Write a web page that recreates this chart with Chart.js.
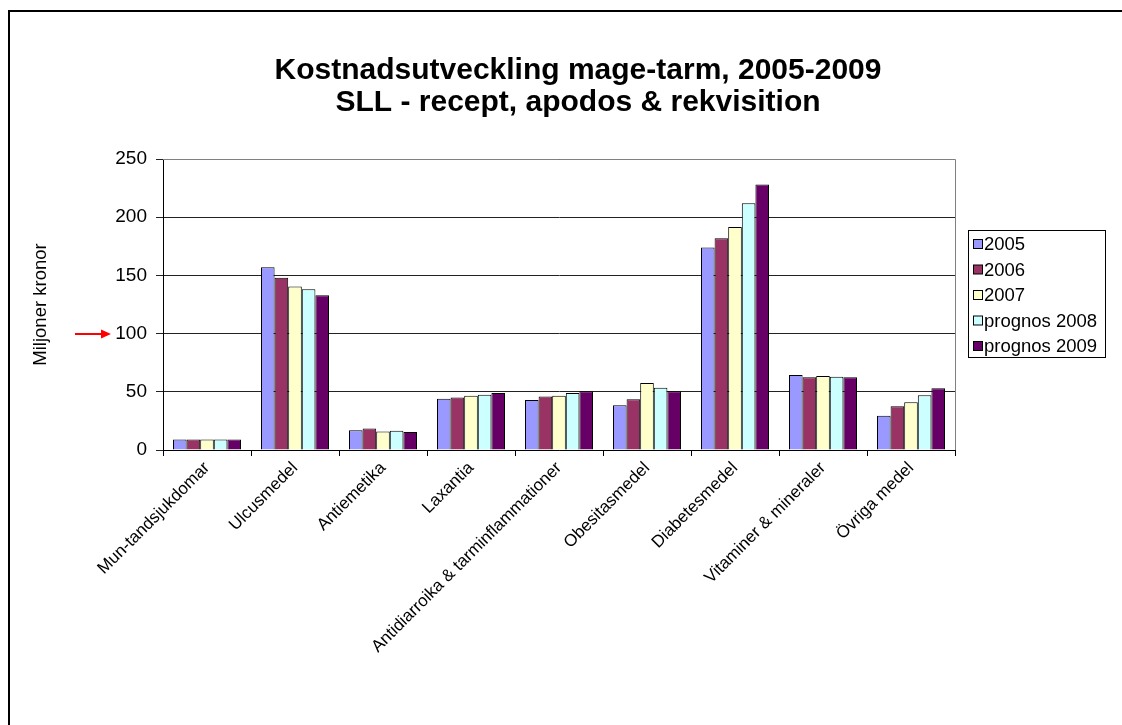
<!DOCTYPE html>
<html>
<head>
<meta charset="utf-8">
<script src="https://cdn.jsdelivr.net/npm/chart.js@4"></script>
<style>
  html, body { margin: 0; padding: 0; background: #fff; }
  #wrap { position: relative; width: 1122px; height: 725px; }
  #frame { position: absolute; left: 8px; top: 10px; right: -10px; bottom: -10px;
           border-left: 2px solid #000; border-top: 2px solid #000; }
  canvas { position: absolute; left: 0; top: 0; }
</style>
</head>
<body>
<div id="wrap">
  <div id="frame"></div>
  <canvas id="chart" width="1122" height="725"></canvas>
</div>
<script>
const titleLines = ["Kostnadsutveckling mage-tarm, 2005-2009", "SLL - recept, apodos & rekvisition"];
const categories = [
  "Mun-tandsjukdomar", "Ulcusmedel", "Antiemetika", "Laxantia",
  "Antidiarroika & tarminflammationer", "Obesitasmedel", "Diabetesmedel",
  "Vitaminer & mineraler", "Övriga medel"
];
const seriesNames = ["2005", "2006", "2007", "prognos 2008", "prognos 2009"];
const seriesColors = ["#9999FF", "#993366", "#FFFFCC", "#CCFFFF", "#660066"];

const v2005 = [9, 157, 17, 44, 43, 38.5, 174, 64.5, 29.5];
const v2006 = [9, 148, 18.5, 45, 46, 43.5, 182, 62.5, 37.5];
const v2007 = [9, 140.5, 16, 46.5, 46.5, 57.5, 191.5, 63.5, 41];
const v2008 = [9, 138, 16.5, 47.5, 49, 53.5, 212, 63, 47];
const v2009 = [9, 133, 15.5, 49, 50.5, 50.5, 228, 62.5, 53];
const yTicks = [0, 50, 100, 150, 200, 250];

const FONT = "Arial, 'Liberation Sans', sans-serif";
Chart.defaults.font.family = FONT;
Chart.defaults.color = "#000";

const allSeries = [v2005, v2006, v2007, v2008, v2009];

// title, gray plot border, legend box and red arrow
const extras = {
  id: "extras",
  afterDraw(chart) {
    const ctx = chart.ctx;
    const a = chart.chartArea;
    ctx.save();

    ctx.fillStyle = "#000";
    ctx.font = "bold 30px " + FONT;
    ctx.textAlign = "center";
    ctx.textBaseline = "middle";
    titleLines.forEach((t, i) => ctx.fillText(t, 578, 71 + i * 32));
    ctx.textAlign = "left";

    ctx.strokeStyle = "#808080";
    ctx.lineWidth = 1;
    ctx.beginPath();
    ctx.moveTo(a.left, a.top + 0.5);
    ctx.lineTo(a.right + 0.5, a.top + 0.5);
    ctx.lineTo(a.right + 0.5, a.bottom);
    ctx.stroke();

    // arrow pointing at 100
    const y = Math.round(chart.scales.y.getPixelForValue(100));
    const x0 = a.left - 88, x1 = a.left - 52;
    ctx.strokeStyle = "#FF0000";
    ctx.fillStyle = "#FF0000";
    ctx.lineWidth = 2;
    ctx.beginPath();
    ctx.moveTo(x0, y);
    ctx.lineTo(x1 - 8, y);
    ctx.stroke();
    ctx.beginPath();
    ctx.moveTo(x1, y);
    ctx.lineTo(x1 - 10, y - 4.5);
    ctx.lineTo(x1 - 10, y + 4.5);
    ctx.closePath();
    ctx.fill();

    // legend
    const lx = 968.5, ly = 230.5, lw = 137, lh = 127;
    ctx.fillStyle = "#fff";
    ctx.fillRect(lx, ly, lw, lh);
    ctx.strokeStyle = "#000";
    ctx.lineWidth = 1;
    ctx.strokeRect(lx, ly, lw, lh);
    ctx.font = "18.5px " + FONT;
    ctx.textBaseline = "middle";
    chart.data.datasets.forEach((ds, i) => {
      const cy = 244 + i * 25.5;
      ctx.fillStyle = ds.backgroundColor;
      ctx.fillRect(973.5, cy - 4.5, 9, 9);
      ctx.strokeStyle = "#000";
      ctx.strokeRect(973.5, cy - 4.5, 9, 9);
      ctx.fillStyle = "#000";
      ctx.fillText(ds.label, 984, cy + 1);
    });
    ctx.restore();
  }
};

new Chart(document.getElementById("chart"), {
  type: "bar",
  data: {
    labels: categories,
    datasets: seriesNames.map((name, i) => ({
      label: name,
      data: allSeries[i],
      backgroundColor: seriesColors[i],
      borderColor: "#000",
      borderWidth: 1,
      categoryPercentage: 0.773,
      barPercentage: 1
    }))
  },
  options: {
    responsive: false,
    animation: false,
    layout: { padding: { left: 0, right: 167, top: 159, bottom: 0 } },
    plugins: {
      legend: { display: false },
      tooltip: { enabled: false },
      title: { display: false }
    },
    scales: {
      x: {
        grid: { display: true, drawOnChartArea: false, offset: true, color: "#000", tickLength: 6 },
        border: { color: "#000", width: 1 },
        ticks: {
          font: { size: 17 },
          color: "#000",
          maxRotation: 45,
          minRotation: 45,
          autoSkip: false,
          padding: 2
        },
        afterFit(scale) { scale.height = 275; }
      },
      y: {
        min: 0,
        max: 250,
        afterBuildTicks(scale) { scale.ticks = yTicks.map(v => ({ value: v })); },
        grid: { color: "#222", tickLength: 7 },
        border: { color: "#000", width: 1 },
        ticks: { font: { size: 19 }, color: "#000", padding: 9 },
        title: {
          display: true,
          text: "Miljoner kronor",
          font: { size: 18.5 },
          color: "#000",
          padding: { top: 30, bottom: 0 }
        },
        afterFit(scale) { scale.width = 163; }
      }
    }
  },
  plugins: [extras]
});
</script>
</body>
</html>
